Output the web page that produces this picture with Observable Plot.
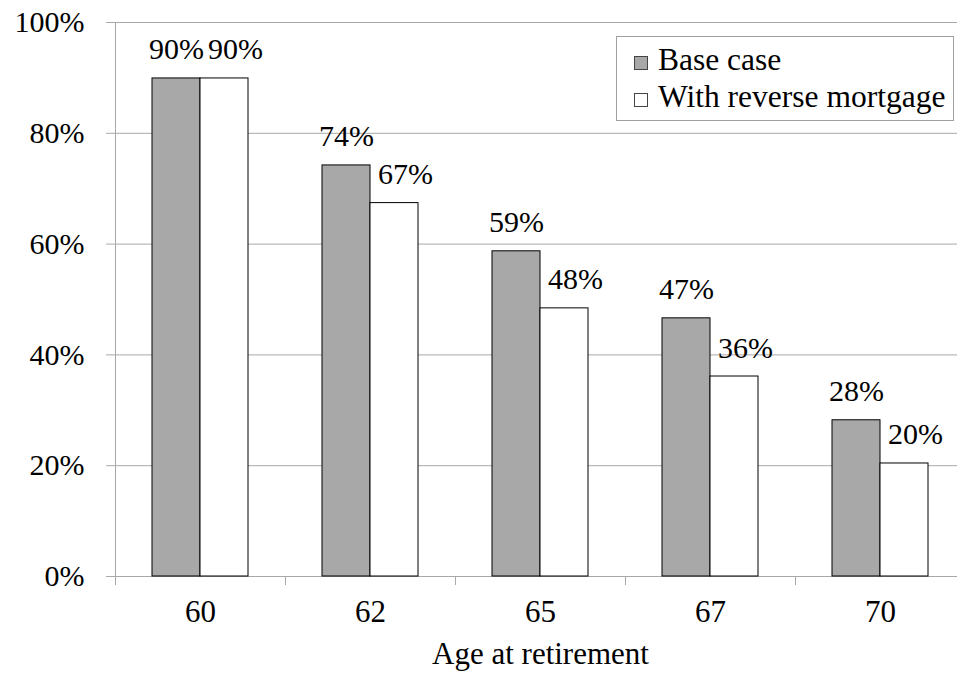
<!DOCTYPE html>
<html>
<head>
<meta charset="utf-8">
<script src="https://cdn.jsdelivr.net/npm/d3@7"></script>
<script src="https://cdn.jsdelivr.net/npm/@observablehq/plot@0.6"></script>
<style>
  html, body { margin: 0; padding: 0; background: white; overflow: hidden; font-family: 'Liberation Serif', serif; }
  #wrap { position: relative; width: 957px; height: 675px; font-family: 'Liberation Serif', serif; }
  #legend { position: absolute; left: 616px; top: 36px; width: 338px; height: 85px; box-sizing: border-box;
            border: 1px solid #a0a0a0; background: white; font-size: 31.5px; color: black; }
  .item { position: absolute; left: 17px; display: flex; align-items: center; white-space: nowrap; line-height: 36px; }
  .sw { width: 14px; height: 14px; border: 1px solid #444; margin-right: 10px; box-sizing: border-box; position: relative; top: 3px; }
</style>
</head>
<body>
<div id="wrap"></div>
<script>
const ages = ["60", "62", "65", "67", "70"];
const series = ["Base case", "With reverse mortgage"];
const baseCase = [89.9, 74.2, 58.7, 46.6, 28.2];
const withReverse = [89.9, 67.4, 48.4, 36.1, 20.4];
const yTicks = [0, 20, 40, 60, 80, 100];
const fills = ["#a8a8a8", "#ffffff"];
const xLabel = "Age at retirement";

const data = ages.flatMap((a, i) => [
  {age: a, series: series[0], value: baseCase[i]},
  {age: a, series: series[1], value: withReverse[i]}
]);
const gridColor = "#a8a8a8";
const FONT = "'Liberation Serif', serif";

const plot = Plot.plot({
  width: 957,
  height: 675,
  marginLeft: 113,
  marginRight: -9,
  marginTop: 22,
  marginBottom: 99,
  style: {fontFamily: FONT, fontSize: "30px", color: "black", background: "white", overflow: "visible"},
  fx: {domain: ages, padding: 0},
  x: {domain: series, paddingInner: 0, paddingOuter: 0.74, axis: null},
  y: {domain: [0, 100]},
  color: {domain: series, range: fills},
  marks: [
    Plot.gridY(yTicks, {stroke: gridColor, strokeOpacity: 1}),
    Plot.axisY(yTicks, {tickFormat: d => d + "%", tickSize: 9, tickPadding: 22, stroke: gridColor, fill: "black", label: null}),
    Plot.axisFx({anchor: "bottom", tickSize: 0, tickPadding: 23, fontSize: 31, fill: "black", label: xLabel, labelAnchor: "center", labelOffset: 87}),
    Plot.barY(data, {fx: "age", x: "series", y: "value", fill: "series", stroke: "black", strokeWidth: 1}),
    Plot.text(data.filter(d => d.series === series[0]), {fx: "age", x: "series", y: "value", text: d => Math.round(d.value) + "%", dy: -19, lineAnchor: "bottom", fill: "black"}),
    Plot.text(data.filter(d => d.series === series[1]), {fx: "age", x: "series", y: "value", text: d => Math.round(d.value) + "%", dy: -19, dx: 11, lineAnchor: "bottom", fill: "black"})
  ]
});

document.getElementById("wrap").appendChild(plot);

// y-axis line and category boundary ticks, from the plot's own scales
const fx = plot.scale("fx");
const y = plot.scale("y");
const svg = d3.select(plot);
const y0 = y.apply(0), y1 = y.apply(100);
const g = svg.append("g").attr("stroke", gridColor).attr("stroke-width", 1);
g.append("line").attr("x1", fx.apply(ages[0]) + 0.5).attr("x2", fx.apply(ages[0]) + 0.5).attr("y1", y1).attr("y2", y0 + 9);
const bounds = ages.map(a => fx.apply(a)).concat([fx.apply(ages[ages.length - 1]) + fx.bandwidth]);
bounds.slice(1).forEach(b => {
  g.append("line").attr("x1", b + 0.5).attr("x2", b + 0.5).attr("y1", y0).attr("y2", y0 + 9);
});

// legend
const legend = document.createElement("div");
legend.id = "legend";
series.forEach((s, i) => {
  const item = document.createElement("div");
  item.className = "item";
  item.style.top = (i * 37 + 5) + "px";
  const sw = document.createElement("span");
  sw.className = "sw";
  sw.style.background = fills[i];
  const t = document.createElement("span");
  t.textContent = s;
  item.appendChild(sw);
  item.appendChild(t);
  legend.appendChild(item);
});
document.getElementById("wrap").appendChild(legend);
</script>
</body>
</html>
